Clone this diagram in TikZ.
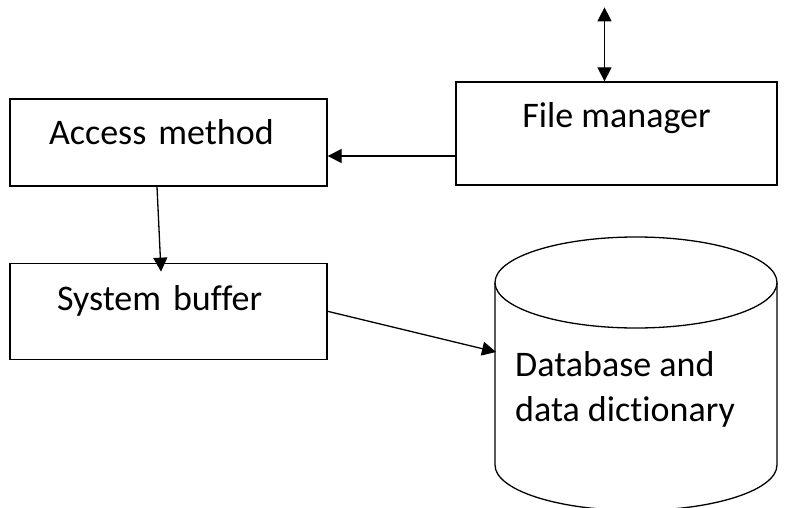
\documentclass[tikz,border=0pt]{standalone}
\usepackage{fontspec}
\setmainfont{Carlito}[Ligatures=NoCommon]
\usetikzlibrary{arrows.meta, positioning}

\begin{document}
\begin{tikzpicture}[
  x=1pt, y=-1pt,
  font=\fontsize{36}{45}\selectfont,
  >={Triangle[length=14pt,width=14pt]},
  line/.style = {line width=1.3pt},
  box/.style = {draw, line, inner ysep=0pt, minimum height=0pt, text height=46pt},
  arrow/.style = {line, ->}
]
  \useasboundingbox (0,0) rectangle (790,508);

  % Access method
  \node[box, inner xsep=39pt, text width=239pt, align=left, text depth=41pt] (access) at (168.5,142.5) {Access method};

  % System buffer
  \node[box, inner xsep=47pt, text width=223pt, align=left, text height=47pt, text depth=49pt, below=76pt of access] (buffer) {System buffer};

  % File manager
  \node[box, minimum width=321pt, text depth=57pt] (filemgr) at (616.5,133.5) {File manager};

  % Database (cylinder)
  \draw[line] (636,282.5) ellipse [x radius=141, y radius=45.5];
  \draw[line] (495,282.5) -- (495,465) arc[start angle=180, end angle=0, x radius=141, y radius=45.5] -- (777,282.5);
  \node[inner sep=0pt, align=left, anchor=north west] (db) at (515,351) {Database and\\data dictionary};
  \coordinate (dbin) at (496,352);

  \coordinate[above=74pt of filemgr.north, xshift=-12pt] (io);

  \draw[line, <->] (io) -- ([xshift=-12pt]filemgr.north);
  \draw[arrow] ([yshift=-22.5pt]filemgr.west) -- ([yshift=-22.5pt]filemgr.west -| access.east);
  \draw[arrow] ([xshift=-11.5pt]access.south) -- ([xshift=-7.5pt,yshift=-9pt]buffer.north);
  \draw[arrow] (buffer.east) -- (dbin);

\end{tikzpicture}
\end{document}
